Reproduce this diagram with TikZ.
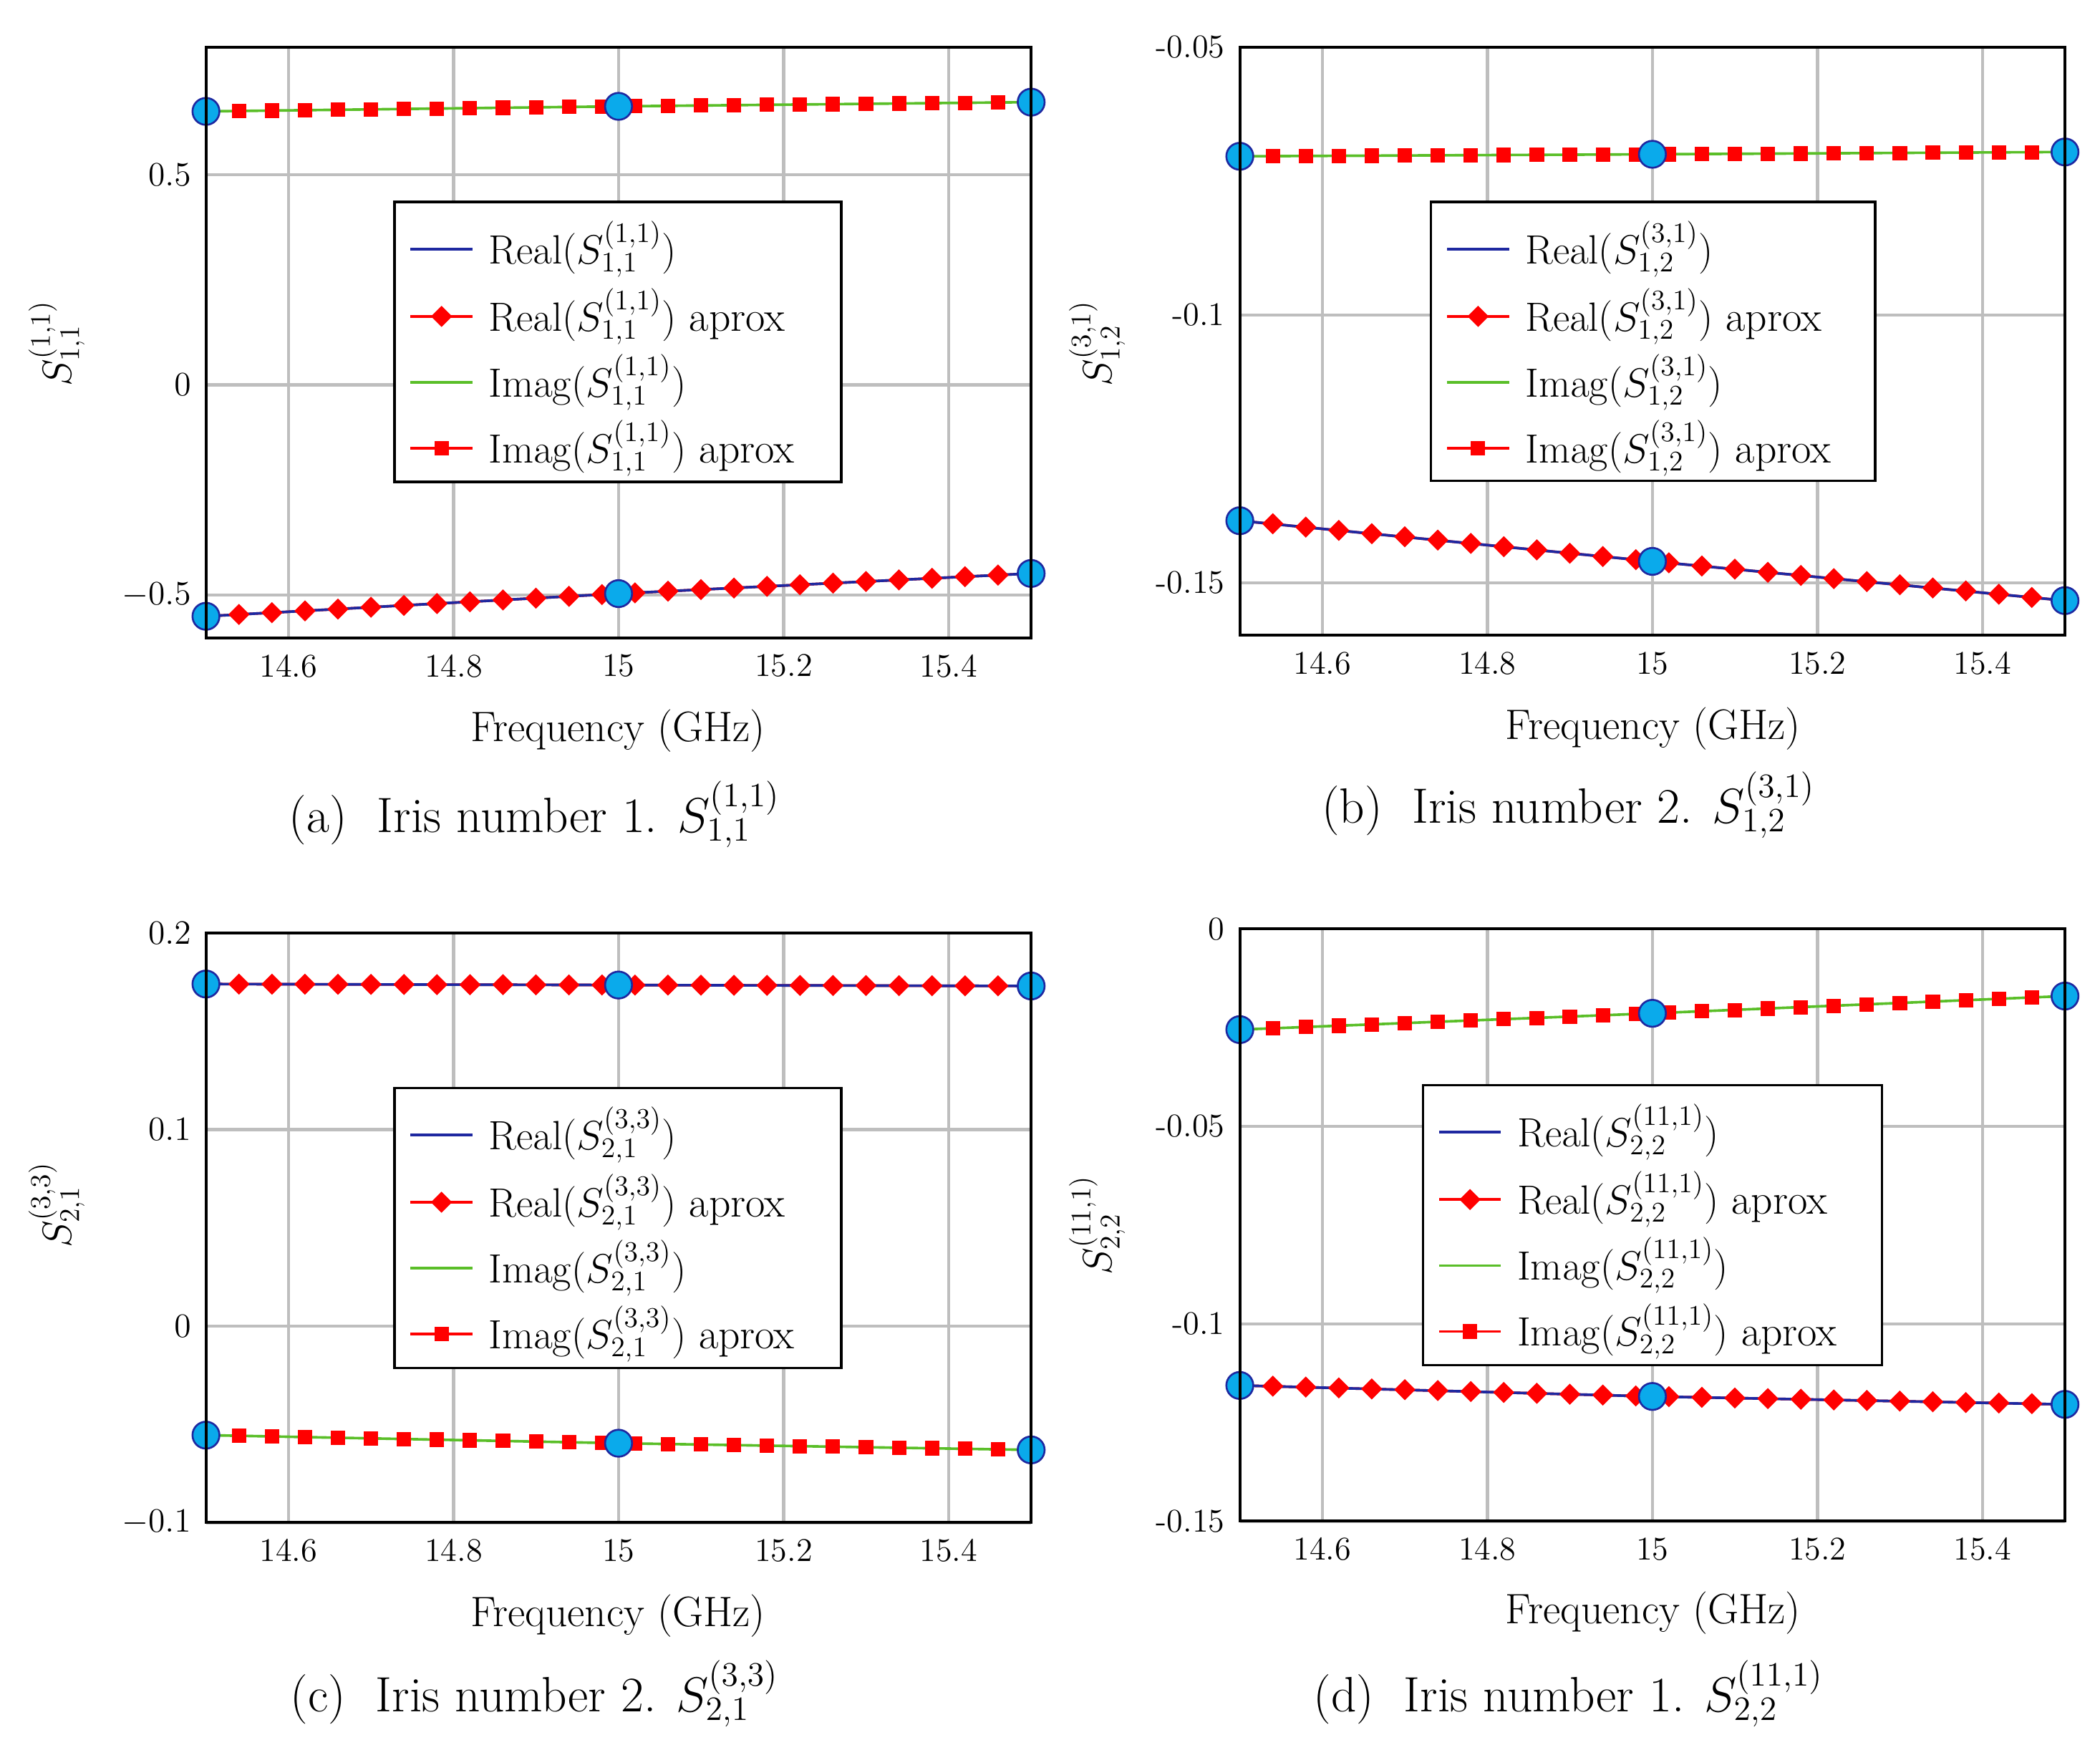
\documentclass[tikz,border=0pt]{standalone}
\usetikzlibrary{shapes.geometric}
\begin{document}
\definecolor{gridc}{RGB}{190,190,190}
\definecolor{realc}{RGB}{30,40,160}
\definecolor{imagc}{RGB}{90,190,40}
\definecolor{cyanc}{RGB}{10,170,235}
\tikzset{
 gridl/.style={gridc,line width=1.3pt},
 frame/.style={black,line width=1.2pt},
 rline/.style={realc,line width=1.1pt},
 iline/.style={imagc,line width=1.1pt},
 dmd/.style={diamond,fill=red,draw=red,inner sep=0pt,minimum size=0.3cm},
 sqr/.style={rectangle,fill=red,draw=red,inner sep=0pt,minimum size=0.2cm},
 circ/.style={circle,fill=cyanc,draw=realc,line width=0.8pt,inner sep=0pt,minimum size=0.4cm},
 ticktxt/.style={font=\fontsize{14}{16}\selectfont},
 leg/.style={font=\fontsize{18}{20}\selectfont,anchor=west},
 axl/.style={font=\fontsize{18}{20}\selectfont},
 captxt/.style={font=\fontsize{21}{23}\selectfont},
}
\newcommand{\DrawPanel}{%
\begin{scope}[shift={(\pL,\pT)},xscale=613,yscale={\pH/(\pvt-(\pvb))}]
 \foreach \f in {14.6,14.8,15,15.2,15.4}{
  \draw[gridl] ({\f-14.5},0) -- ({\f-14.5},{\pvt-(\pvb)});
  \node[ticktxt,anchor=north,yshift=-0.12cm] at ({\f-14.5},{\pvt-(\pvb)}) {\f};}
 \foreach \v/\lab in \pyt{
  \draw[gridl] (0,{\pvt-(\v)}) -- (1,{\pvt-(\v)});
  \node[ticktxt,anchor=east,xshift=-0.1cm] at (0,{\pvt-(\v)}) {\lab};}
 \draw[red,line width=1.1pt] (0,{\pvt-(\pra)}) -- (0.5,{\pvt-(\prb)}) -- (1,{\pvt-(\prc)});
 \draw[rline] (0,{\pvt-(\pra)}) -- (0.5,{\pvt-(\prb)}) -- (1,{\pvt-(\prc)});
 \draw[iline] (0,{\pvt-(\pia)}) -- (0.5,{\pvt-(\pib)}) -- (1,{\pvt-(\pic)});
 \foreach \i in {1,...,24}{
  \pgfmathsetmacro\ff{0.04*\i}
  \pgfmathsetmacro\rr{\ff<0.5 ? \pra+(\prb-(\pra))*\ff/0.5 : \prb+(\prc-(\prb))*(\ff-0.5)/0.5}
  \pgfmathsetmacro\ii{\ff<0.5 ? \pia+(\pib-(\pia))*\ff/0.5 : \pib+(\pic-(\pib))*(\ff-0.5)/0.5}
  \node[dmd] at (\ff,{\pvt-(\rr)}) {};
  \node[sqr] at (\ff,{\pvt-(\ii)}) {};}
 \foreach \f/\a/\b in {0/\pra/\pia,0.5/\prb/\pib,1/\prc/\pic}{
  \node[circ] at (\f,{\pvt-(\a)}) {};
  \node[circ] at (\f,{\pvt-(\b)}) {};}
 \draw[frame] (0,0) rectangle (1,{\pvt-(\pvb)});
\end{scope}}
\newcommand{\Legend}[5]{% x y w h S
\begin{scope}[shift={(#1,#2)}]
 \draw[fill=white,line width=1pt] (0,0) rectangle (#3,#4);
 \draw[rline] (12,35) -- (58,35); \node[leg] at (64,35) {$\mathrm{Real}(#5)$};
 \draw[red,line width=1.1pt] (12,85) -- (58,85); \node[dmd] at (35,85) {};
 \node[leg] at (64,85) {$\mathrm{Real}(#5)$ aprox};
 \draw[iline] (12,134) -- (58,134); \node[leg] at (64,134) {$\mathrm{Imag}(#5)$};
 \draw[red,line width=1.1pt] (12,183) -- (58,183); \node[sqr] at (35,183) {};
 \node[leg] at (64,183) {$\mathrm{Imag}(#5)$ aprox};
\end{scope}}
\begin{tikzpicture}[x=0.02cm,y=-0.02cm]
\useasboundingbox (0,0) rectangle (1560,1296);
% (a)
\def\pL{153}\def\pT{35}\def\pH{439}\def\pvt{0.804}\def\pvb{-0.603}
\def\pra{-0.551}\def\prb{-0.497}\def\prc{-0.449}
\def\pia{0.651}\def\pib{0.663}\def\pic{0.673}
\def\pyt{0.5/{$0.5$},0/{$0$},-0.5/{$-0.5$}}
\DrawPanel
\Legend{293}{150}{332}{208}{S^{(1,1)}_{1,1}}
\node[axl,rotate=90] at (42,255) {$S^{(1,1)}_{1,1}$};
\node[axl] (xa) at (459,543) {Frequency (GHz)};
\node[captxt] (ca) at (397,605) {(a)\ \ Iris number 1. $S^{(1,1)}_{1,1}$};
% (b)
\def\pL{921}\def\pT{35}\def\pH{437}\def\pvt{-0.05}\def\pvb{-0.1598}
\def\pra{-0.1384}\def\prb{-0.146}\def\prc{-0.1533}
\def\pia{-0.0704}\def\pib{-0.0700}\def\pic{-0.0696}
\def\pyt{-0.05/{-0.05},-0.1/{-0.1},-0.15/{-0.15}}
\DrawPanel
\Legend{1063}{150}{330}{207}{S^{(3,1)}_{1,2}}
\node[axl,rotate=90] at (815,255) {$S^{(3,1)}_{1,2}$};
\node[axl] (xb) at (1228,541) {Frequency (GHz)};
\node[captxt] (cb) at (1165,598) {(b)\ \ Iris number 2. $S^{(3,1)}_{1,2}$};
% (c)
\def\pL{153}\def\pT{693}\def\pH{438}\def\pvt{0.2}\def\pvb{-0.1}
\def\pra{0.174}\def\prb{0.1735}\def\prc{0.173}
\def\pia{-0.0555}\def\pib{-0.0596}\def\pic{-0.063}
\def\pyt{0.2/{$0.2$},0.1/{$0.1$},0/{$0$},-0.1/{$-0.1$}}
\DrawPanel
\Legend{293}{808}{332}{208}{S^{(3,3)}_{2,1}}
\node[axl,rotate=90] at (42,895) {$S^{(3,3)}_{2,1}$};
\node[axl] (xc) at (459,1200) {Frequency (GHz)};
\node[captxt] (cc) at (397,1258) {(c)\ \ Iris number 2. $S^{(3,3)}_{2,1}$};
% (d)
\def\pL{921}\def\pT{690}\def\pH{440}\def\pvt{0}\def\pvb{-0.15}
\def\pra{-0.1156}\def\prb{-0.1184}\def\prc{-0.1204}
\def\pia{-0.0255}\def\pib{-0.0214}\def\pic{-0.017}
\def\pyt{0/{0},-0.05/{-0.05},-0.1/{-0.1},-0.15/{-0.15}}
\DrawPanel
\Legend{1057}{806}{341}{208}{S^{(11,1)}_{2,2}}
\node[axl,rotate=90] at (815,910) {$S^{(11,1)}_{2,2}$};
\node[axl] (xd) at (1228,1198) {Frequency (GHz)};
\node[captxt] (cd) at (1165,1258) {(d)\ \ Iris number 1. $S^{(11,1)}_{2,2}$};
\end{tikzpicture}
\end{document}
